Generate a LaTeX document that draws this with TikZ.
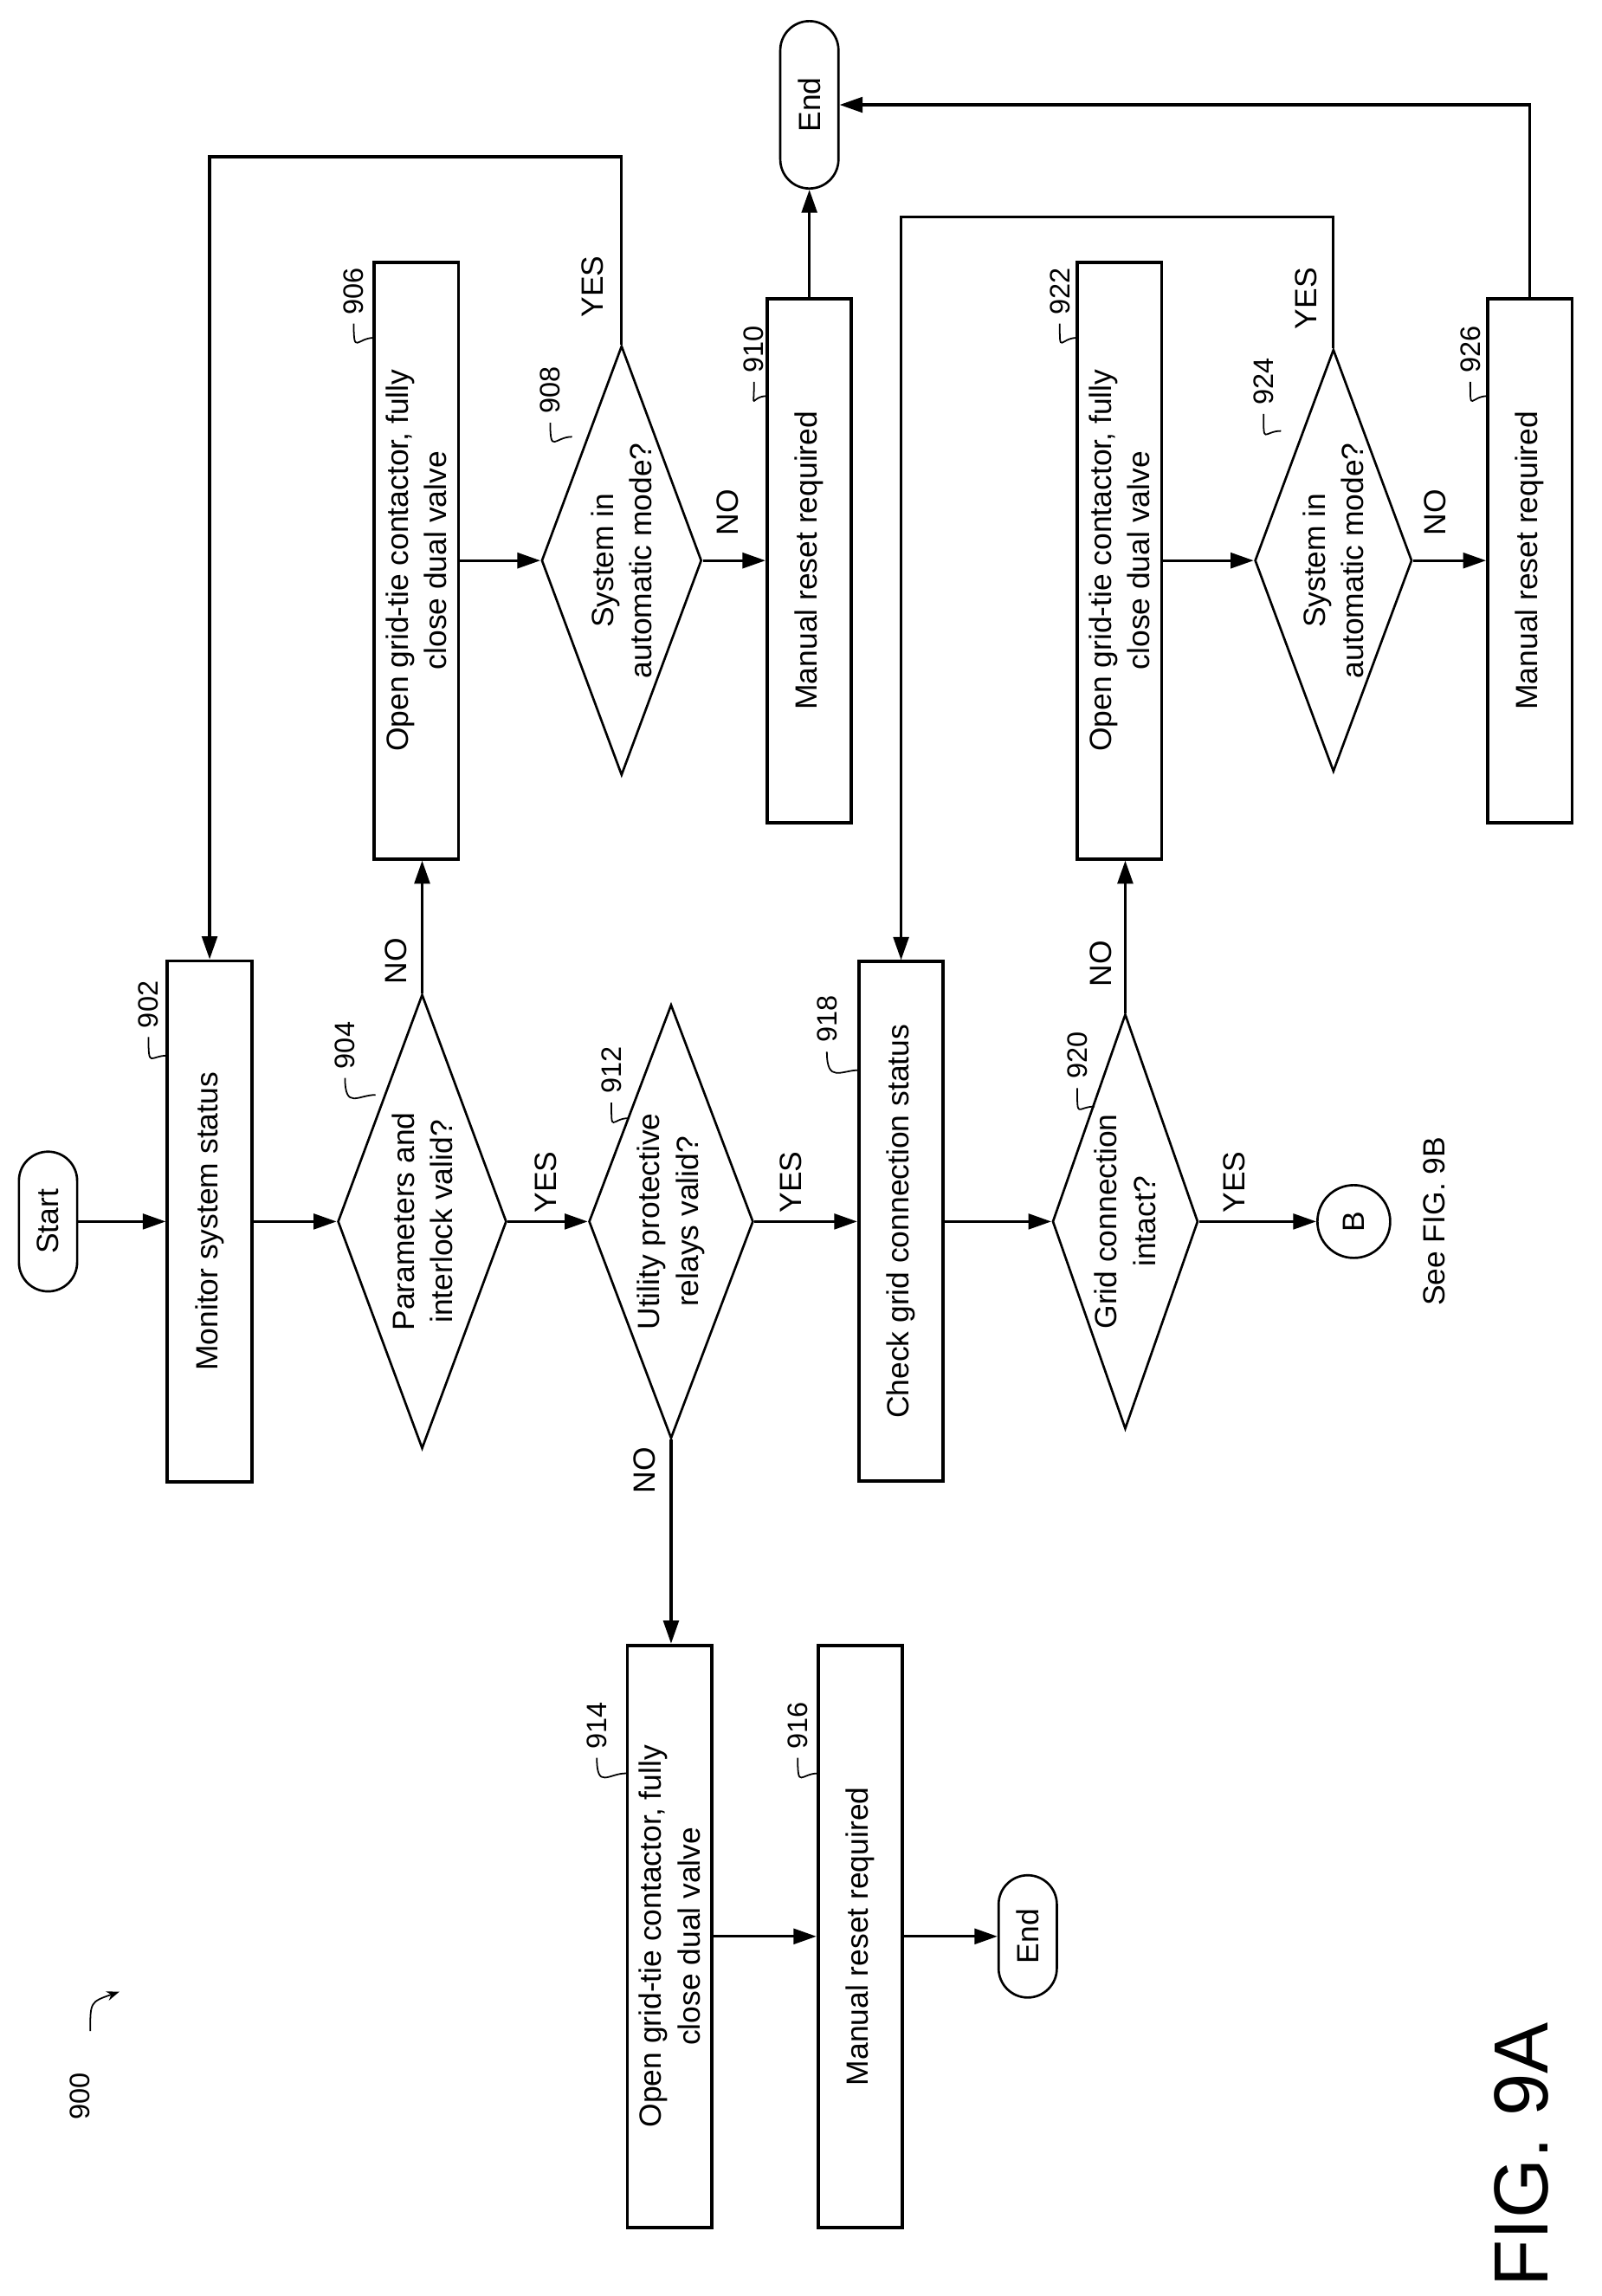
\documentclass[tikz,border=0pt]{standalone}
\usepackage{fontspec}
\setmainfont{Liberation Sans}
\usetikzlibrary{shapes.geometric, arrows.meta, positioning}

\begin{document}
\begin{tikzpicture}[
    x=0.02cm, y=-0.02cm,
    every node/.style={font=\fontsize{12}{15}\selectfont, rotate=90},
    process/.style={rectangle, draw, line width=1.3pt, align=center, inner sep=2pt, minimum height=1.16cm},
    decision/.style={diamond, draw, line width=0.9pt, align=center, inner sep=0pt, shape aspect=2.7},
    terminal/.style={rectangle, draw, line width=0.9pt, rounded corners=0.4cm, minimum height=0.8cm},
    flow/.style={-{Triangle[length=9pt, width=6pt]}, line width=1.1pt},
    refnum/.style={font=\fontsize{11}{12}\selectfont},
    leader/.style={line width=0.6pt},
    lbl/.style={font=\fontsize{12}{13}\selectfont}
]
\useasboundingbox (0,0) rectangle (1100,1577);

% Main column
\node[terminal, minimum width=1.92cm] (start) at (33,839) {Start};
\node[process, minimum width=7.16cm] (n902) at (144,839) {Monitor system status};
\node[decision, minimum width=6.24cm, minimum height=2.32cm] (n904) at (290,839) {Parameters and\\interlock valid?};
\node[decision, minimum width=5.96cm, minimum height=2.26cm] (n912) at (461,839) {Utility protective\\relays valid?};
\node[process, minimum width=7.14cm] (n918) at (619,839) {Check grid connection status};
\node[decision, minimum width=5.7cm, minimum height=2.0cm] (n920) at (773,839) {Grid connection\\intact?};
\node[circle, draw, line width=0.9pt, minimum size=1.0cm, inner sep=0pt] (b) at (930,839) {B};
\node (see) at (985,839) {See FIG. 9B};

% Upper branch
\node[process, minimum width=8.2cm] (n906) at (286,385) {Open grid-tie contactor, fully\\close dual valve};
\node[decision, minimum width=5.9cm, minimum height=2.2cm] (n908) at (427,385) {System in\\automatic mode?};
\node[process, minimum width=7.2cm] (n910) at (556,385) {Manual reset required};
\node[terminal, minimum width=2.3cm] (end1) at (556,72) {End};

% Second upper branch
\node[process, minimum width=8.2cm] (n922) at (769,385) {Open grid-tie contactor, fully\\close dual valve};
\node[decision, minimum width=5.8cm, minimum height=2.16cm] (n924) at (916,385) {System in\\automatic mode?};
\node[process, minimum width=7.2cm] (n926) at (1051,385) {Manual reset required};

% Lower branch
\node[process, minimum width=8.0cm] (n914) at (460,1330) {Open grid-tie contactor, fully\\close dual valve};
\node[process, minimum width=8.0cm] (n916) at (591,1330) {Manual reset required};
\node[terminal, minimum width=1.68cm] (end2) at (706,1330) {End};

% Connectors
\draw[flow] (start) -- (n902);
\draw[flow] (n902) -- (n904);
\draw[flow] (n904) -- (n912);
\draw[flow] (n912) -- (n918);
\draw[flow] (n918) -- (n920);
\draw[flow] (n920) -- (b);
\draw[flow] (n904.east) -- (n904.east |- n906.west);
\draw[flow] (n906) -- (n908);
\draw[flow] (n908) -- (n910);
\draw[flow] (n908.east) -- ++(0,-129) -| (n902.east);
\draw[flow] (n910.east) -- (end1.west);
\draw[flow] (n912.west) -- (n912.west |- n914.east);
\draw[flow] (n914) -- (n916);
\draw[flow] (n916) -- (end2);
\draw[flow] (n920.east) -- (n920.east |- n922.west);
\draw[flow] (n922) -- (n924);
\draw[flow] (n924) -- (n926);
\draw[flow] (n924.east) -- ++(0,-90) -| (n918.east);
\draw[flow] (n926.east) |- (end1.south);

% Branch labels
\node[lbl] (y904) at (375,812) {YES};
\node[lbl] (no904) at (272,660) {NO};
\node[lbl] (y908) at (407,197) {YES};
\node[lbl] (no908) at (500,352) {NO};
\node[lbl] (no912) at (443,1010) {NO};
\node[lbl] (y912) at (543,812) {YES};
\node[lbl] (y920) at (848,812) {YES};
\node[lbl] (no920) at (756,662) {NO};
\node[lbl] (y924) at (897,205) {YES};
\node[lbl] (no924) at (986,352) {NO};

% Reference numerals
\node[refnum] (r902) at (102,690) {902};
\node[refnum] (r904) at (237,718) {904};
\node[refnum] (r906) at (243,200) {906};
\node[refnum] (r908) at (378,268) {908};
\node[refnum] (r910) at (518,240) {910};
\node[refnum] (r912) at (420,735) {912};
\node[refnum] (r914) at (410,1185) {914};
\node[refnum] (r916) at (548,1185) {916};
\node[refnum] (r918) at (568,700) {918};
\node[refnum] (r920) at (740,725) {920};
\node[refnum] (r922) at (728,200) {922};
\node[refnum] (r924) at (868,262) {924};
\node[refnum] (r926) at (1010,240) {926};
\foreach \r/\px/\py in {r902/115/725, r904/258/752, r906/257/232, r908/393/300, r910/527/272, r912/432/768,
    r914/430/1218, r916/562/1218, r918/590/735, r920/752/760, r922/740/232, r924/880/296, r926/1022/272}
    \draw[leader] (\r.west) .. controls +(0,22) and +(-12,0) .. (\px,\py);

% Figure labels
\node[refnum] (r900) at (55,1440) {900};
\draw[leader, -{Stealth[length=5pt]}] (62,1395) .. controls (62,1375) .. (82,1368);
\node[font=\fontsize{30}{32}\selectfont] (fig) at (1045,1480) {FIG. 9A};
\end{tikzpicture}
\end{document}
